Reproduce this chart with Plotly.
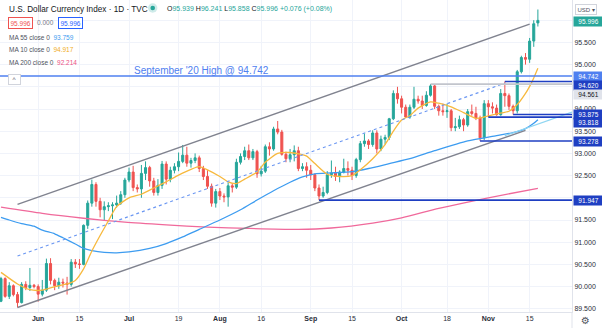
import plotly.graph_objects as go

# ---------------- data ----------------
dates = [
    "2021-05-19", "2021-05-20", "2021-05-21", "2021-05-24", "2021-05-25", "2021-05-26", "2021-05-27", "2021-05-28", "2021-05-31",
    "2021-06-01", "2021-06-02", "2021-06-03", "2021-06-04", "2021-06-07", "2021-06-08", "2021-06-09", "2021-06-10", "2021-06-11",
    "2021-06-14", "2021-06-15", "2021-06-16", "2021-06-17", "2021-06-18", "2021-06-21", "2021-06-22", "2021-06-23", "2021-06-24",
    "2021-06-25", "2021-06-28", "2021-06-29", "2021-06-30",
    "2021-07-01", "2021-07-02", "2021-07-05", "2021-07-06", "2021-07-07", "2021-07-08", "2021-07-09", "2021-07-12", "2021-07-13",
    "2021-07-14", "2021-07-15", "2021-07-16", "2021-07-19", "2021-07-20", "2021-07-21", "2021-07-22", "2021-07-23", "2021-07-26",
    "2021-07-27", "2021-07-28", "2021-07-29", "2021-07-30",
    "2021-08-02", "2021-08-03", "2021-08-04", "2021-08-05", "2021-08-06", "2021-08-09", "2021-08-10", "2021-08-11", "2021-08-12",
    "2021-08-13", "2021-08-16", "2021-08-17", "2021-08-18", "2021-08-19", "2021-08-20", "2021-08-23", "2021-08-24", "2021-08-25",
    "2021-08-26", "2021-08-27", "2021-08-30", "2021-08-31",
    "2021-09-01", "2021-09-02", "2021-09-03", "2021-09-06", "2021-09-07", "2021-09-08", "2021-09-09", "2021-09-10", "2021-09-13",
    "2021-09-14", "2021-09-15", "2021-09-16", "2021-09-17", "2021-09-20", "2021-09-21", "2021-09-22", "2021-09-23", "2021-09-24",
    "2021-09-27", "2021-09-28", "2021-09-29", "2021-09-30",
    "2021-10-01", "2021-10-04", "2021-10-05", "2021-10-06", "2021-10-07", "2021-10-08", "2021-10-11", "2021-10-12", "2021-10-13",
    "2021-10-14", "2021-10-15", "2021-10-18", "2021-10-19", "2021-10-20", "2021-10-21", "2021-10-22", "2021-10-25", "2021-10-26",
    "2021-10-27", "2021-10-28", "2021-10-29",
    "2021-11-01", "2021-11-02", "2021-11-03", "2021-11-04", "2021-11-05", "2021-11-08", "2021-11-09", "2021-11-10", "2021-11-11",
    "2021-11-12", "2021-11-15", "2021-11-16", "2021-11-17",
]

opens = [
    89.67, 90.18, 89.78, 90.02, 89.82, 89.64, 90.05, 89.98, 90.03,
    90.00, 89.83, 89.92, 90.52, 90.14, 90.02, 90.10, 90.08, 90.05, 90.55, 90.51, 90.50, 91.38, 91.88, 92.30, 91.92, 91.73, 91.80, 91.82, 91.84, 91.88, 92.07,
    92.40, 92.58, 92.23, 92.20, 92.55, 92.68, 92.38, 92.12, 92.28, 92.76, 92.42, 92.62, 92.70, 92.82, 92.96, 92.78, 92.84, 92.90, 92.66, 92.48, 92.26, 91.88,
    92.14, 92.04, 92.02, 92.27, 92.24, 92.80, 92.93, 93.06, 92.90, 93.04, 92.54, 92.60, 93.15, 93.10, 93.55, 93.48, 92.98, 92.88, 92.97, 93.06, 92.66, 92.70,
    92.62, 92.52, 92.22, 92.04, 92.12, 92.52, 92.56, 92.48, 92.58, 92.66, 92.62, 92.50, 92.86, 93.22, 93.28, 93.20, 93.46, 93.10, 93.32, 93.36, 93.78, 94.35,
    94.23, 94.04, 93.82, 94.04, 94.22, 94.18, 94.08, 94.31, 94.52, 94.06, 93.96, 93.94, 93.96, 93.58, 93.60, 93.76, 93.64, 93.94, 93.90, 93.80, 93.35,
    94.12, 94.05, 94.02, 93.87, 94.35, 94.30, 94.06, 93.96, 94.84, 95.16, 95.12, 95.53, 95.939,
]
highs = [
    90.22, 90.21, 90.10, 90.05, 89.88, 90.10, 90.12, 90.42, 90.06,
    90.05, 90.15, 90.63, 90.64, 90.18, 90.20, 90.18, 90.22, 90.62, 90.62, 90.62, 91.40, 91.94, 92.41, 92.35, 92.00, 91.92, 91.90, 91.90, 92.05, 92.15, 92.45,
    92.68, 92.72, 92.30, 92.74, 92.82, 92.72, 92.45, 92.42, 92.83, 92.82, 92.70, 92.78, 93.02, 93.19, 93.15, 92.90, 93.00, 92.95, 92.72, 92.62, 92.32, 92.20,
    92.22, 92.10, 92.35, 92.32, 92.88, 93.00, 93.15, 93.20, 93.10, 93.08, 92.72, 93.20, 93.25, 93.60, 93.73, 93.53, 93.04, 93.10, 93.18, 93.15, 92.78, 92.80,
    92.74, 92.55, 92.30, 92.25, 92.60, 92.84, 92.70, 92.62, 92.88, 92.82, 92.70, 92.90, 93.28, 93.45, 93.32, 93.52, 93.52, 93.40, 93.42, 93.80, 94.42, 94.50,
    94.30, 94.10, 94.10, 94.50, 94.30, 94.30, 94.40, 94.561, 94.55, 94.10, 94.12, 94.12, 94.00, 93.80, 93.85, 93.80, 94.00, 94.10, 94.05, 93.85, 94.20,
    94.20, 94.15, 94.10, 94.45, 94.62, 94.35, 94.10, 94.88, 95.20, 95.26, 95.60, 96.00, 96.241,
]
lows = [
    89.65, 89.75, 89.72, 89.78, 89.53, 89.62, 89.92, 89.90, 89.96,
    89.66, 89.78, 89.88, 90.05, 89.92, 89.95, 89.98, 89.82, 90.00, 90.42, 90.40, 90.48, 91.30, 91.80, 91.80, 91.56, 91.50, 91.70, 91.52, 91.78, 91.84, 92.00,
    92.35, 92.15, 92.12, 92.00, 92.40, 92.25, 92.05, 92.05, 92.20, 92.30, 92.35, 92.55, 92.60, 92.78, 92.70, 92.68, 92.78, 92.58, 92.40, 92.20, 91.80, 91.78,
    91.95, 91.90, 91.80, 92.12, 92.20, 92.75, 92.85, 92.85, 92.85, 92.45, 92.48, 92.56, 92.95, 93.06, 93.43, 92.95, 92.80, 92.80, 92.82, 92.60, 92.60, 92.45,
    92.40, 92.15, 91.947, 92.00, 92.08, 92.45, 92.38, 92.35, 92.55, 92.50, 92.40, 92.45, 92.80, 93.15, 93.10, 93.15, 93.00, 93.05, 93.20, 93.30, 93.75, 94.12,
    93.90, 93.80, 93.78, 94.00, 94.12, 94.00, 94.05, 94.28, 94.00, 93.85, 93.85, 93.80, 93.50, 93.50, 93.55, 93.50, 93.60, 93.85, 93.75, 93.278, 93.30,
    93.818, 93.90, 93.85, 93.85, 94.05, 93.98, 93.875, 93.90, 94.80, 95.00, 95.04, 95.40, 95.858,
]
closes = [
    90.18, 89.78, 90.02, 89.82, 89.64, 90.05, 89.98, 90.03, 90.00,
    89.83, 89.92, 90.52, 90.14, 90.02, 90.10, 90.08, 90.05, 90.55, 90.51, 90.50, 91.38, 91.88, 92.30, 91.92, 91.73, 91.80, 91.82, 91.84, 91.88, 92.07, 92.40,
    92.58, 92.23, 92.20, 92.55, 92.68, 92.38, 92.12, 92.28, 92.76, 92.42, 92.62, 92.70, 92.82, 92.96, 92.78, 92.84, 92.90, 92.66, 92.48, 92.26, 91.88, 92.14,
    92.04, 92.02, 92.27, 92.24, 92.80, 92.93, 93.06, 92.90, 93.04, 92.54, 92.60, 93.15, 93.10, 93.55, 93.48, 92.98, 92.88, 92.97, 93.06, 92.66, 92.70, 92.62,
    92.52, 92.22, 92.04, 92.12, 92.52, 92.56, 92.48, 92.58, 92.66, 92.62, 92.50, 92.86, 93.22, 93.28, 93.20, 93.46, 93.10, 93.32, 93.36, 93.78, 94.35, 94.23,
    94.04, 93.82, 94.04, 94.22, 94.18, 94.08, 94.31, 94.52, 94.06, 93.96, 93.94, 93.96, 93.58, 93.60, 93.76, 93.64, 93.94, 93.90, 93.80, 93.35, 94.12,
    94.05, 94.02, 93.87, 94.35, 94.30, 94.06, 93.96, 94.84, 95.16, 95.12, 95.53, 95.92, 95.996,
]

ma10_dates = ["2021-05-19", "2021-05-25", "2021-05-28", "2021-06-02", "2021-06-07", "2021-06-10", "2021-06-14", "2021-06-16",
              "2021-06-18", "2021-06-22", "2021-06-24", "2021-06-28", "2021-07-01", "2021-07-06", "2021-07-09", "2021-07-14",
              "2021-07-19", "2021-07-22", "2021-07-26", "2021-07-28", "2021-08-02", "2021-08-04", "2021-08-06", "2021-08-10",
              "2021-08-13", "2021-08-17", "2021-08-20", "2021-08-25", "2021-08-27", "2021-08-31", "2021-09-02", "2021-09-07",
              "2021-09-10", "2021-09-15", "2021-09-17", "2021-09-22", "2021-09-27", "2021-09-29", "2021-10-01", "2021-10-05",
              "2021-10-07", "2021-10-12", "2021-10-14", "2021-10-19", "2021-10-22", "2021-10-27", "2021-10-29", "2021-11-03",
              "2021-11-08", "2021-11-10", "2021-11-12", "2021-11-15", "2021-11-16", "2021-11-17"]
ma10_vals = [90.32, 90.06, 89.93, 89.92, 90.00, 90.06, 90.14, 90.40, 90.80, 91.15, 91.48, 91.80, 92.00, 92.08, 92.22,
             92.36, 92.51, 92.64, 92.70, 92.63, 92.48, 92.36, 92.32, 92.42, 92.58, 92.80, 93.00, 93.02, 92.99, 92.94,
             92.77, 92.53, 92.48, 92.50, 92.63, 92.88, 93.20, 93.50, 93.75, 93.85, 94.02, 94.16, 94.13, 94.05, 93.92,
             93.79, 93.82, 93.89, 93.95, 94.10, 94.35, 94.51, 94.70, 94.917]

ma55_dates = ["2021-05-19", "2021-05-21", "2021-05-26", "2021-05-31", "2021-06-02", "2021-06-07", "2021-06-09", "2021-06-14",
              "2021-06-16", "2021-06-18", "2021-06-23", "2021-06-28", "2021-07-01", "2021-07-08", "2021-07-14", "2021-07-20",
              "2021-07-26", "2021-08-02", "2021-08-09", "2021-08-13", "2021-08-19", "2021-08-25", "2021-08-30", "2021-09-02",
              "2021-09-08", "2021-09-15", "2021-09-21", "2021-09-28", "2021-10-05", "2021-10-13", "2021-10-25", "2021-11-03",
              "2021-11-09", "2021-11-12", "2021-11-16", "2021-11-17"]
ma55_vals = [91.56, 91.50, 91.42, 91.36, 91.27, 91.19, 91.10, 90.96, 90.86, 90.81, 90.77, 90.76, 90.78, 90.86, 90.97,
             91.12, 91.29, 91.50, 91.73, 91.95, 92.16, 92.35, 92.47, 92.54, 92.56, 92.59, 92.66, 92.77, 92.88, 93.06,
             93.28, 93.40, 93.47, 93.56, 93.68, 93.759]

ma200_dates = ["2021-05-19", "2021-06-02", "2021-06-16", "2021-06-30", "2021-07-14", "2021-07-28", "2021-08-11",
               "2021-08-27", "2021-09-08", "2021-09-22", "2021-10-01", "2021-10-14", "2021-11-01", "2021-11-17"]
ma200_vals = [91.79, 91.65, 91.54, 91.45, 91.39, 91.34, 91.31, 91.29, 91.32, 91.43, 91.55, 91.76, 92.00, 92.214]

# drawings
upper_dates = ["2021-05-25", "2021-11-15"]
upper_vals = [91.85, 95.91]
lower_dates = ["2021-05-25", "2021-11-12"]
lower_vals = [89.53, 93.52]
mid_dates = ["2021-05-25", "2021-11-05"]
mid_vals = [90.69, 94.58]
ray_start = "2021-11-05"
ray_vals = [93.40, 93.93]   # light trend ray: start value, value at right edge

sept_high = 94.742
level_vals = [94.620, 94.561, 93.875, 93.818, 93.278, 91.947]
level_starts = ["2021-11-05", "2021-10-12", "2021-11-09", "2021-11-01", "2021-10-28", "2021-09-03"]

tick_dates = ["2021-06-01", "2021-06-15", "2021-07-01", "2021-07-19", "2021-08-02", "2021-08-16",
              "2021-09-01", "2021-09-15", "2021-10-01", "2021-10-18", "2021-11-01", "2021-11-15"]
tick_labels = ["<b>Jun</b>", "15", "<b>Jul</b>", "19", "<b>Aug</b>", "16",
               "<b>Sep</b>", "15", "<b>Oct</b>", "18", "<b>Nov</b>", "15"]
y_ticks = [89.5, 90.0, 90.5, 91.0, 91.5, 92.0, 92.5, 93.0, 93.5, 94.0, 94.5, 95.0, 95.5, 96.0]
y_hidden = [92.0, 94.5, 96.0]   # tick labels covered by price boxes in the reference

last_o, last_h, last_l, last_c, last_chg, last_pct = 95.939, 96.241, 95.858, 95.996, 0.076, 0.08
ma55_last, ma10_last, ma200_last = 93.759, 94.917, 92.214

# ---------------- styling ----------------
UP, DN = "#26a69a", "#ef5350"
C_MA10, C_MA55, C_MA200 = "#f7b93e", "#3d9cf0", "#f0699b"
C_CHAN, C_MID = "#80838f", "#6b97f2"
C_SEPT, C_LVL, C_GRAY = "#4f80f0", "#1f3fc2", "#c2c5cc"
FONT = "Liberation Sans"
W, H = 602, 328
PW, PH = 572, 312
X_RANGE = [-0.24, 138.26]
Y_RANGE = [89.428, 96.455]

pos = {d: i for i, d in enumerate(dates)}
xi = list(range(len(dates)))


def px(xp):
    return xp / PW


def py(yp):
    return 1 - yp / PH


fig = go.Figure()

fig.add_trace(go.Candlestick(
    x=xi, open=opens, high=highs, low=lows, close=closes,
    increasing=dict(line=dict(color=UP, width=1), fillcolor=UP),
    decreasing=dict(line=dict(color=DN, width=1), fillcolor=DN),
    whiskerwidth=0, showlegend=False, hoverinfo="skip"))

for dd, vv, col in [(ma200_dates, ma200_vals, C_MA200), (ma55_dates, ma55_vals, C_MA55), (ma10_dates, ma10_vals, C_MA10)]:
    fig.add_trace(go.Scatter(x=[pos[d] for d in dd], y=vv, mode="lines",
                             line=dict(color=col, width=1.3, shape="spline", smoothing=0.6),
                             showlegend=False, hoverinfo="skip"))

# channel
for dd, vv in [(upper_dates, upper_vals), (lower_dates, lower_vals)]:
    fig.add_trace(go.Scatter(x=[pos[d] for d in dd], y=vv, mode="lines",
                             line=dict(color=C_CHAN, width=1.4), showlegend=False, hoverinfo="skip"))
fig.add_trace(go.Scatter(x=[pos[d] for d in mid_dates], y=mid_vals, mode="lines",
                         line=dict(color=C_MID, width=1.1, dash="3px,3px"), showlegend=False, hoverinfo="skip"))
fig.add_trace(go.Scatter(x=[pos[ray_start], X_RANGE[1]], y=ray_vals, mode="lines",
                         line=dict(color="#8fd6f2", width=1.2), showlegend=False, hoverinfo="skip"))

# horizontal levels
fig.add_trace(go.Scatter(x=X_RANGE, y=[sept_high, sept_high], mode="lines",
                         line=dict(color=C_SEPT, width=1.6), showlegend=False, hoverinfo="skip"))
for v, d in zip(level_vals, level_starts):
    col = C_GRAY if abs(v - 94.561) < 1e-6 else C_LVL
    fig.add_trace(go.Scatter(x=[pos[d], X_RANGE[1]], y=[v, v], mode="lines",
                             line=dict(color=col, width=1.6), showlegend=False, hoverinfo="skip"))

ann = []
# header
ann.append(dict(text="U.S. Dollar Currency Index · 1D · TVC", x=px(7), y=py(9), xref="paper", yref="paper",
                xanchor="left", yanchor="middle", showarrow=False, font=dict(family=FONT, size=8.2, color="#131722")))
ohlc = (f"O<span style='color:{UP}'>{last_o:.3f}</span> H<span style='color:{UP}'>{last_h:.3f}</span> "
        f"L<span style='color:{UP}'>{last_l:.3f}</span> C<span style='color:{UP}'>{last_c:.3f}</span> "
        f"<span style='color:{UP}'>+{last_chg:.3f} (+{last_pct:.2f}%)</span>")
ann.append(dict(text=ohlc, x=px(165), y=py(9), xref="paper", yref="paper", xanchor="left", yanchor="middle",
                showarrow=False, font=dict(family=FONT, size=7, color="#131722")))
ann.append(dict(text=f"{last_c:.3f}", x=px(20.5), y=py(23), xref="paper", yref="paper", xanchor="center",
                yanchor="middle", showarrow=False, font=dict(family=FONT, size=6.5, color=DN),
                bordercolor=DN, borderwidth=1, borderpad=1.5, bgcolor="white"))
ann.append(dict(text="0.000", x=px(45), y=py(23), xref="paper", yref="paper", xanchor="center", yanchor="middle",
                showarrow=False, font=dict(family=FONT, size=6.5, color="#787b86")))
ann.append(dict(text=f"{last_c:.3f}", x=px(70.5), y=py(23), xref="paper", yref="paper", xanchor="center",
                yanchor="middle", showarrow=False, font=dict(family=FONT, size=6.5, color="#2962ff"),
                bordercolor="#2962ff", borderwidth=1, borderpad=1.5, bgcolor="white"))
for label, val, col, ypx in [("MA 55 close 0", ma55_last, C_MA55, 37.3), ("MA 10 close 0", ma10_last, "#f0ad1c", 50),
                             ("MA 200 close 0", ma200_last, "#ec4f86", 62.3)]:
    ann.append(dict(text=f"{label}  <span style='color:{col}'>{val:.3f}</span>", x=px(7), y=py(ypx),
                    xref="paper", yref="paper", xanchor="left", yanchor="middle", showarrow=False,
                    font=dict(family=FONT, size=6.5, color="#50535e")))
ann.append(dict(text="^", x=px(14), y=py(79), xref="paper", yref="paper", xanchor="center", yanchor="middle",
                showarrow=False, font=dict(family=FONT, size=6.5, color="#50535e"), width=10, height=8,
                bordercolor="#d1d4dc", borderwidth=1, borderpad=0.5, bgcolor="white"))
ann.append(dict(text=f"September '20 High @ {sept_high:.3f}", x=px(201), y=py(70), xref="paper", yref="paper",
                xanchor="center", yanchor="middle", showarrow=False, font=dict(family=FONT, size=10, color=C_SEPT)))

# right axis labels
def price_box(val, bg, fg, shift=0):
    ann.append(dict(text=f"{val:.3f}", x=1, xshift=1, y=val, yshift=shift, xref="paper", yref="y",
                    xanchor="left", yanchor="middle", showarrow=False, width=27, height=7, borderpad=1,
                    bgcolor=bg, font=dict(family=FONT, size=6.5, color=fg)))

price_box(last_c, UP, "white", -1)
price_box(sept_high, C_SEPT, "white", 0)
price_box(94.620, C_LVL, "white", -4)
price_box(94.561, "#e0e3eb", "#131722", -10)
price_box(93.875, C_LVL, "white", 0)
price_box(93.818, C_LVL, "white", -5)
price_box(93.278, C_LVL, "white", 0)
price_box(91.947, C_LVL, "white", 0)

ann.append(dict(text="USD ▾", x=px(586), y=py(9.5), xref="paper", yref="paper", xanchor="center", yanchor="middle",
                showarrow=False, font=dict(family=FONT, size=6, color="#50535e"), bordercolor="#d1d4dc",
                borderwidth=1, borderpad=1.5, bgcolor="white"))
ann.append(dict(text="⚙", x=px(586), y=py(320), xref="paper", yref="paper", xanchor="center", yanchor="middle",
                showarrow=False, font=dict(family="DejaVu Sans", size=10, color="#50535e")))

shapes = [
    dict(type="circle", xref="paper", yref="paper", x0=px(148), x1=px(157.4), y0=py(12.7), y1=py(3.3),
         fillcolor="rgba(38,166,154,0.22)", line=dict(width=0)),
    dict(type="circle", xref="paper", yref="paper", x0=px(150.4), x1=px(155), y0=py(10.3), y1=py(5.7),
         fillcolor=UP, line=dict(width=0)),
    dict(type="line", xref="paper", yref="paper", x0=1, x1=1, y0=0, y1=py(328),
         line=dict(color="#e0e3eb", width=1)),
]

fig.update_layout(
    width=W, height=H, margin=dict(l=0, r=W - PW, t=0, b=H - PH),
    paper_bgcolor="white", plot_bgcolor="white", showlegend=False,
    annotations=ann, shapes=shapes, dragmode=False,
    xaxis=dict(range=X_RANGE, tickvals=[pos[d] for d in tick_dates], ticktext=tick_labels,
               tickfont=dict(family=FONT, size=7, color="#2a2e39"), showgrid=True, gridcolor="#f0f3fa",
               showline=True, linecolor="#e0e3eb", zeroline=False, rangeslider=dict(visible=False),
               ticks="", fixedrange=True),
    yaxis=dict(range=Y_RANGE, side="right", tickvals=y_ticks,
               ticktext=["" if v in y_hidden else f"{v:.3f}" for v in y_ticks],
               tickfont=dict(family=FONT, size=7, color="#2a2e39"), showgrid=True, gridcolor="#f0f3fa",
               showline=True, linecolor="#e0e3eb", zeroline=False, ticks="", fixedrange=True),
)

fig.write_html("out.html", config={"displayModeBar": False, "staticPlot": True})
